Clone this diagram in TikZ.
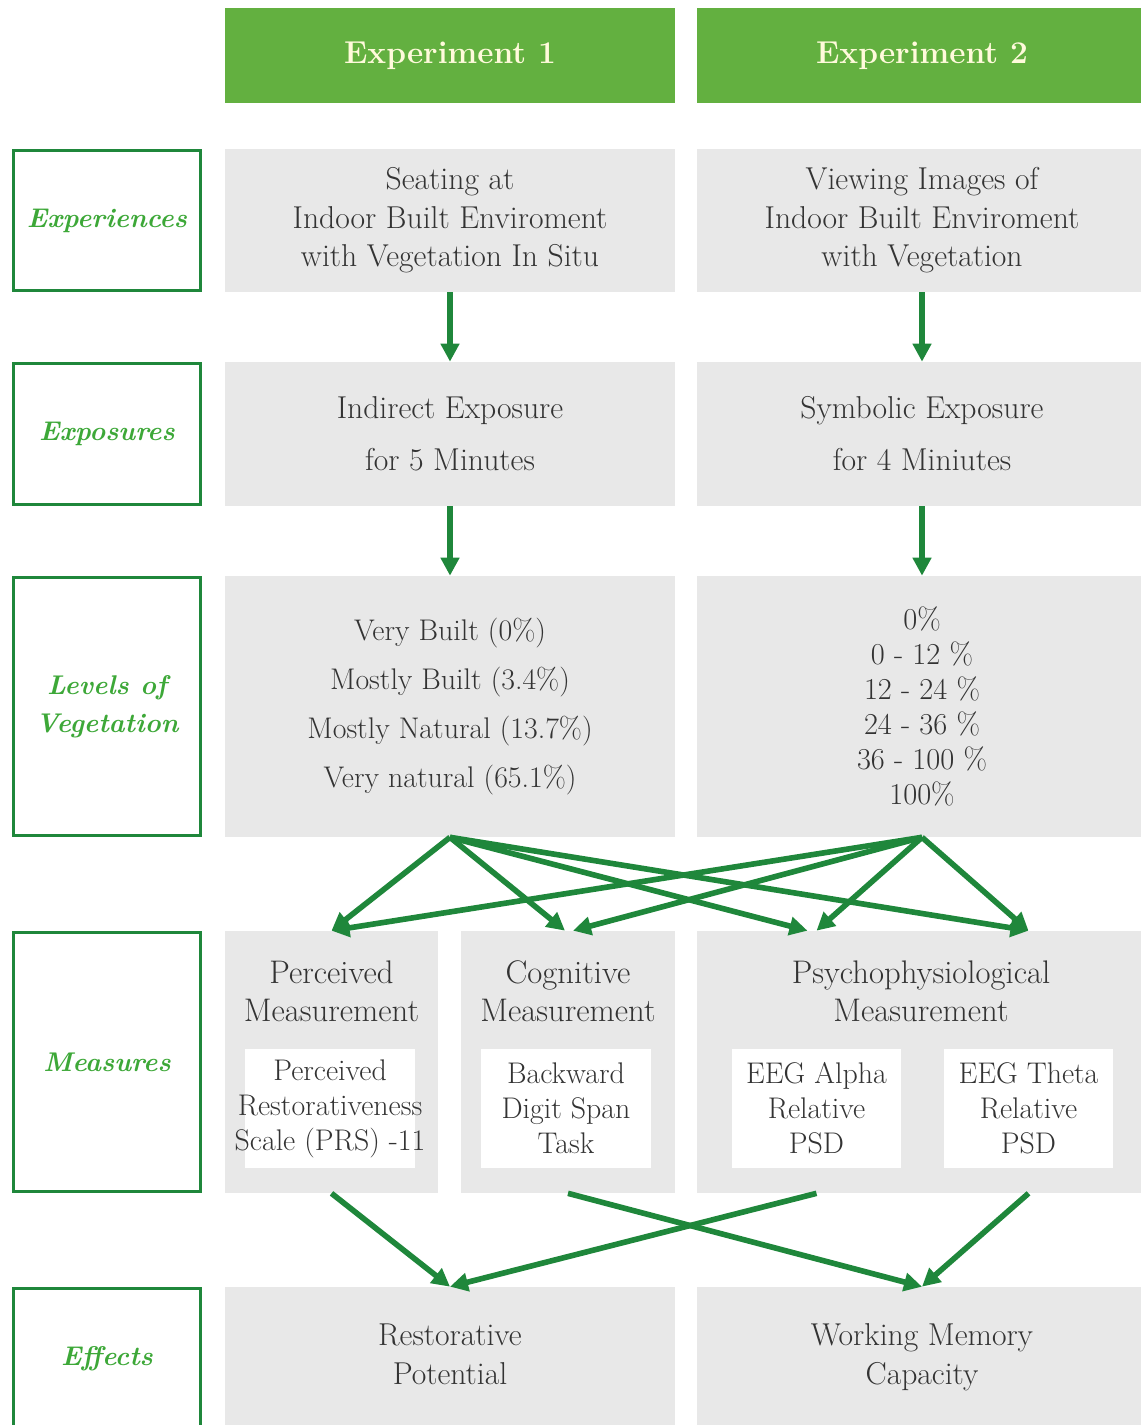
\documentclass[tikz,border=0pt]{standalone}
\usepackage{fontspec}
\usetikzlibrary{arrows.meta,positioning}
\begin{document}
\begin{tikzpicture}[x=0.02cm, y=-0.02cm, head/.style={fill=fxHead, text=fxCream, font=\fontsize{18}{21}\selectfont\bfseries, minimum width=9cm, minimum height=1.9cm, inner sep=0pt}, stage/.style={draw=fxDeep, line width=1.7pt, fill=white, text=fxLeaf, font=\fontsize{15.4}{21.8}\selectfont\bfseries\itshape, minimum width=3.74cm, align=center, inner sep=0pt}, panel/.style={fill=fxGrey, text=fxText, font=\fontsize{18}{21.9}\selectfont, align=center, inner sep=0pt}, card/.style={fill=white, minimum width=3.4cm, minimum height=2.38cm, inner sep=0pt}, txt/.style={text=fxText, font=\fontsize{17}{19.9}\selectfont, align=center, inner sep=0pt}, flow/.style={-{Triangle[length=0.36cm, width=0.36cm]}, line width=3.2pt, fxDeep}]
\definecolor{fxHead}{rgb}{0.39,0.69,0.25}
\definecolor{fxCream}{rgb}{1.00,0.98,0.86}
\definecolor{fxDeep}{rgb}{0.12,0.53,0.23}
\definecolor{fxLeaf}{rgb}{0.24,0.66,0.22}
\definecolor{fxGrey}{rgb}{0.91,0.91,0.91}
\definecolor{fxText}{rgb}{0.20,0.20,0.20}
\useasboundingbox (0,0) rectangle (1141,1425);
\node[head] (hd1) at (450,55.5) {Experiment 1};
\node[head] (hd2) at (922,55.5) {Experiment 2};
\node[stage, minimum height=2.8cm] (sExp) at (107,220.5) {Experiences};
\node[stage, minimum height=2.82cm] (sExpo) at (107,434) {Exposures};
\node[stage, minimum height=5.16cm] (sLev) at (107,706.5) {Levels of\\Vegetation};
\node[stage, minimum height=5.18cm] (sMeas) at (107,1062) {Measures};
\node[stage, minimum height=2.8cm] (sEff) at (107,1358.5) {Effects};
\node[panel, minimum width=9cm, minimum height=2.86cm] (exp1) at (450,220.5) {Seating at\\Indoor Built Enviroment\\with Vegetation In Situ};
\node[panel, minimum width=9cm, minimum height=2.86cm] (exp2) at (922,220.5) {Viewing Images of\\Indoor Built Enviroment\\with Vegetation};
\node[panel, minimum width=9cm, minimum height=2.88cm, font=\fontsize{18}{29.6}\selectfont] (expo1) at (450,434) {Indirect Exposure\\for 5 Minutes};
\node[panel, minimum width=9cm, minimum height=2.88cm, font=\fontsize{18}{29.6}\selectfont] (expo2) at (922,434) {Symbolic Exposure\\for 4 Miniutes};
\node[panel, minimum width=9cm, minimum height=5.22cm, font=\fontsize{17}{27.9}\selectfont] (lev1) at (450,706.5) {Very Built (0\%)\\Mostly Built (3.4\%)\\Mostly Natural (13.7\%)\\Very natural (65.1\%)};
\node[panel, minimum width=9cm, minimum height=5.22cm, font=\fontsize{17.3}{19.9}\selectfont] (lev2) at (922,706.5) {0\%\\0 - 12 \%\\12 - 24 \%\\24 - 36 \%\\36 - 100 \%\\100\%};
\node[panel, minimum width=4.26cm, minimum height=5.24cm] (perc) at (331.5,1062) {};
\node[panel, minimum width=4.28cm, minimum height=5.24cm] (cogn) at (568,1062) {};
\node[panel, minimum width=9cm, minimum height=5.24cm] (psych) at (922,1062) {};
\node[txt, font=\fontsize{18.6}{21.6}\selectfont] (percT) at (331.5,991) {Perceived\\Measurement};
\node[txt, font=\fontsize{18.6}{21.6}\selectfont] (cognT) at (568,991) {Cognitive\\Measurement};
\node[txt, font=\fontsize{18.6}{21.6}\selectfont] (psychT) at (921,991) {Psychophysiological\\Measurement};
\node[card] (prs) at (330,1108.5) {};
\node[card] (bds) at (566,1108.5) {};
\node[card, minimum width=3.38cm] (alpha) at (816.5,1108.5) {};
\node[card, minimum width=3.38cm] (theta) at (1028.5,1108.5) {};
\node[txt] at (prs) {Perceived\\Restorativeness\\Scale (PRS) -11};
\node[txt] at (bds) {Backward\\Digit Span\\Task};
\node[txt] at (alpha) {EEG Alpha\\Relative\\PSD};
\node[txt] at (theta) {EEG Theta\\Relative\\PSD};
\node[panel, minimum width=9cm, minimum height=2.86cm] (rest) at (450,1358.5) {Restorative\\Potential\\[-17pt]};
\node[panel, minimum width=9cm, minimum height=2.86cm] (work) at (922,1358.5) {Working Memory\\Capacity\\[-17pt]};
\draw[flow] (exp1.south) -- (expo1.north);
\draw[flow] (exp2.south) -- (expo2.north);
\draw[flow] (expo1.south) -- (lev1.north);
\draw[flow] (expo2.south) -- (lev2.north);
\draw[flow] (lev1.south) -- (perc.north);
\draw[flow] (lev1.south) -- ([xshift=-0.06cm]cogn.north);
\draw[flow] (lev1.south) -- ([xshift=-0.18cm]alpha.north |- psych.north);
\draw[flow] (lev1.south) -- (theta.north |- psych.north);
\draw[flow] (lev2.south) -- (perc.north);
\draw[flow] (lev2.south) -- ([xshift=0.1cm]cogn.north);
\draw[flow] (lev2.south) -- (alpha.north |- psych.north);
\draw[flow] (lev2.south) -- (theta.north |- psych.north);
\draw[flow] (perc.south) -- (rest.north);
\draw[flow] (alpha.south |- psych.south) -- (rest.north);
\draw[flow] (cogn.south) -- (work.north);
\draw[flow] (theta.south |- psych.south) -- (work.north);
\end{tikzpicture}
\end{document}
